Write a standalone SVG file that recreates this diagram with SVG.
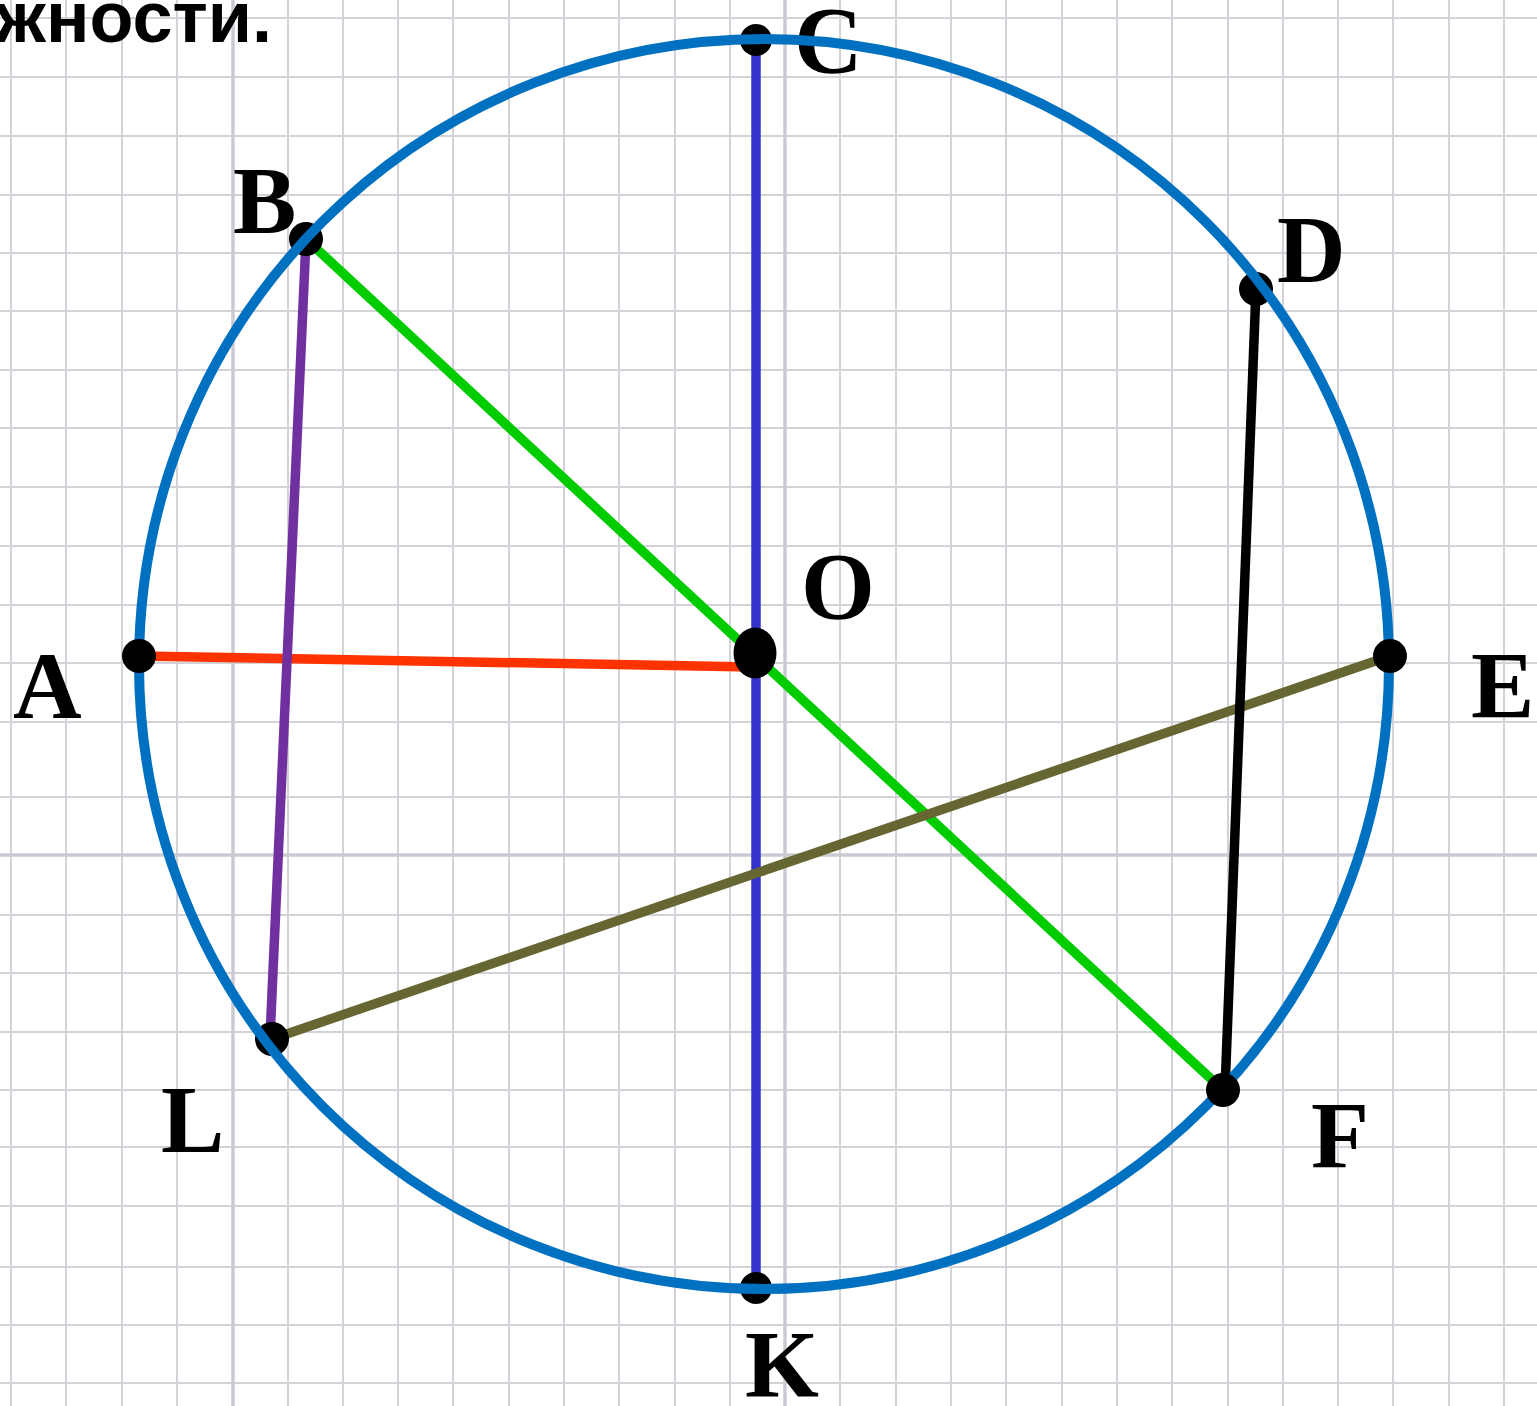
<svg xmlns="http://www.w3.org/2000/svg" width="1537" height="1406" viewBox="0 0 1537 1406">
<style>
.grid{stroke:#d2d2d8;stroke-width:2;fill:none}
.gridb{stroke:#cacad2;stroke-width:3.5;fill:none}
.chord{stroke-width:9.5;fill:none;stroke-linecap:butt}
.pt{fill:#000}
.lbl{font-family:"Liberation Serif","Times New Roman",serif;font-weight:bold;font-size:95px;fill:#000}
.title{font-family:"Liberation Sans",Arial,sans-serif;font-weight:bold;font-size:72px;fill:#000}
</style>
<rect width="1537" height="1406" fill="#fff"/>
<g id="grid">
<path class="grid" d="M11 0V1406M66 0V1406M122 0V1406M177 0V1406M288 0V1406M343 0V1406M398 0V1406M453 0V1406M509 0V1406M564 0V1406M619 0V1406M675 0V1406M730 0V1406M840 0V1406M896 0V1406M951 0V1406M1006 0V1406M1062 0V1406M1117 0V1406M1172 0V1406M1228 0V1406M1283 0V1406M1338 0V1406M1393 0V1406M1449 0V1406M1504 0V1406"/>
<path class="grid" d="M0 18H1537M0 77H1537M0 136H1537M0 195H1537M0 253H1537M0 311H1537M0 370H1537M0 428H1537M0 487H1537M0 546H1537M0 605H1537M0 663H1537M0 722H1537M0 797H1537M0 915H1537M0 973H1537M0 1032H1537M0 1090H1537M0 1147H1537M0 1206H1537M0 1267H1537M0 1325H1537M0 1383H1537"/>
<path class="gridb" d="M233 0V1406M785 0V1406M0 855H1537"/>
</g>
<text class="title" x="272" y="42" text-anchor="end">жности.</text>
<g id="connectors">
<line class="chord" x1="756" y1="40" x2="756" y2="1289" stroke="#3333cc"/>
<line class="chord" x1="139" y1="656" x2="752" y2="667" stroke="#ff3300"/>
<line class="chord" x1="306" y1="239" x2="1223" y2="1090" stroke="#00cc00"/>
<line class="chord" x1="306" y1="240" x2="270" y2="1038" stroke="#7030a0" stroke-width="8"/>
<line class="chord" x1="272" y1="1039" x2="1390" y2="656" stroke="#666633"/>
<line class="chord" x1="1256" y1="289" x2="1225" y2="1090" stroke="#000" stroke-width="8"/>
</g>
<g id="node-B"><circle class="pt" cx="306" cy="239" r="17"/><text class="lbl" x="233" y="233">B</text></g>
<g id="node-C"><circle class="pt" cx="756" cy="40" r="16"/><text class="lbl" x="794" y="73">C</text></g>
<g id="node-D"><circle class="pt" cx="1256" cy="289" r="17"/><text class="lbl" x="1277" y="282">D</text></g>
<g id="node-K"><circle class="pt" cx="756" cy="1288" r="16"/><text class="lbl" x="745" y="1397">K</text></g>
<g id="node-L"><circle class="pt" cx="272" cy="1039" r="17"/><text class="lbl" x="161" y="1152">L</text></g>
<g id="circle"><circle cx="764" cy="664" r="625" fill="none" stroke="#0070c0" stroke-width="10"/></g>
<g id="node-A"><circle class="pt" cx="139" cy="656" r="17"/><text class="lbl" x="13" y="718">A</text></g>
<g id="node-E"><circle class="pt" cx="1390" cy="656" r="17"/><text class="lbl" x="1471" y="718">E</text></g>
<g id="node-F"><circle class="pt" cx="1223" cy="1090" r="17"/><text class="lbl" x="1311" y="1168">F</text></g>
<g id="node-O"><ellipse class="pt" cx="755" cy="653" rx="21.5" ry="25.5"/><text class="lbl" x="801" y="619">O</text></g>
</svg>
